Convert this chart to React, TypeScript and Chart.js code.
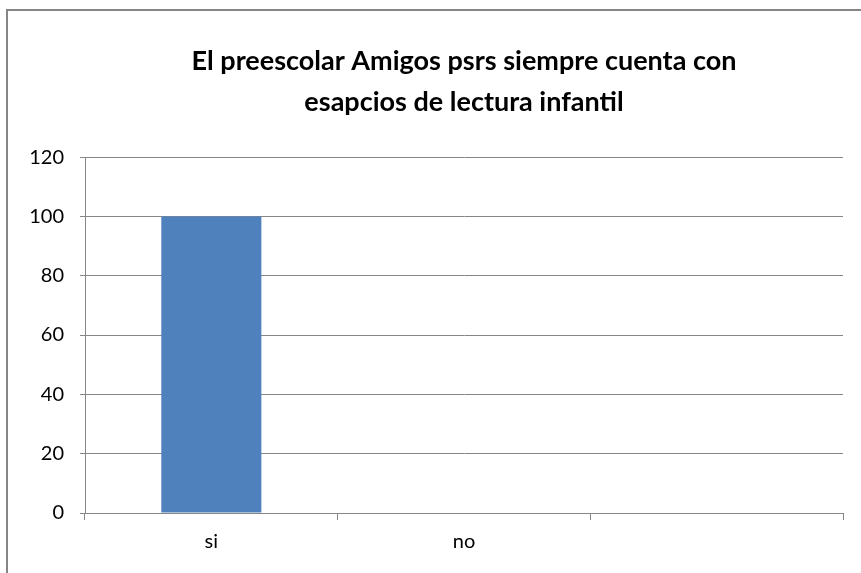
import React, { useEffect, useRef } from "react";
import { Chart, registerables } from "chart.js";

Chart.register(...registerables);

const titleLines = ["El preescolar Amigos psrs siempre cuenta con", "esapcios de lectura infantil"];
const categories = ["si", "no", ""];
const values: (number | null)[] = [100, 0, null];
const yMin = 0;
const yMax = 120;
const yStep = 20;

export default function App() {
  const ref = useRef<HTMLCanvasElement | null>(null);
  useEffect(() => {
    if (!ref.current) return;
    const chart = new Chart(ref.current, {
      type: "bar",
      data: {
        labels: categories,
        datasets: [
          {
            data: values,
            backgroundColor: "#4F81BD",
            borderWidth: 0,
            barPercentage: 0.396,
            categoryPercentage: 1,
          },
        ],
      },
      options: {
        responsive: false,
        animation: false,
        layout: { padding: { left: 0, right: 0, top: 10, bottom: 0 } },
        plugins: {
          legend: { display: false },
          tooltip: { enabled: false },
          title: {
            display: true,
            text: titleLines,
            color: "#000",
            font: { family: "Lato", size: 27, weight: "bold", lineHeight: 1.52 },
            padding: { top: 31, bottom: 34 },
          },
        },
        scales: {
          x: {
            grid: {
              display: true,
              offset: true,
              drawOnChartArea: false,
              drawTicks: true,
              tickLength: 7,
              color: "#868686",
            },
            border: { display: true, color: "#868686" },
            ticks: {
              color: "#000",
              font: { family: "Lato", size: 20 },
              padding: 10,
            },
            afterFit: (s: any) => {
              s.height = 60;
            },
          },
          y: {
            min: yMin,
            max: yMax,
            ticks: {
              stepSize: yStep,
              color: "#000",
              font: { family: "Lato", size: 20 },
              padding: 16,
            },
            grid: {
              color: "#868686",
              tickLength: 5,
              drawTicks: true,
            },
            border: { display: true, color: "#868686" },
            afterFit: (s: any) => {
              s.width = 85;
            },
          },
          yRight: {
            position: "right",
            display: true,
            min: yMin,
            max: yMax,
            grid: { display: false, drawOnChartArea: false, drawTicks: false },
            border: { display: false },
            ticks: { display: false },
            afterFit: (s: any) => {
              s.width = 85;
            },
          },
        },
      },
    });
    return () => chart.destroy();
  }, []);
  return (
    <div
      style={{
        position: "fixed",
        left: 0,
        top: 0,
        width: 861,
        height: 573,
        overflow: "hidden",
        background: "#fff",
      }}
    >
      <canvas ref={ref} width={928} height={573} style={{ position: "absolute", left: 0, top: 0 }} />
      <div
        style={{
          position: "absolute",
          left: 6,
          top: 9,
          width: 1000,
          height: 1000,
          border: "2px solid #868686",
          pointerEvents: "none",
        }}
      />
    </div>
  );
}
